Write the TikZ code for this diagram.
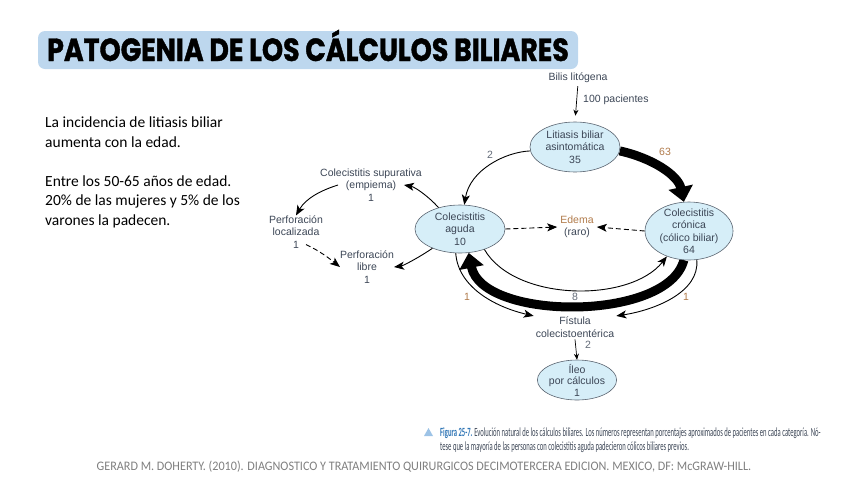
\documentclass[tikz,border=0pt]{standalone}
\usepackage{fontspec}
\usepackage{tikz}
\usetikzlibrary{arrows.meta,positioning,shapes.geometric,calc,backgrounds}
\setmainfont{Liberation Sans}
\newfontfamily\titlefont{Poppins}[FakeStretch=0.84,BoldFeatures={FakeBold=1.2}]
\newfontfamily\notefont{Carlito}
\newfontfamily\capfont{Carlito}[FakeStretch=0.53]
\newfontfamily\footfont{Carlito}[FakeStretch=0.935]
\definecolor{titlebox}{HTML}{BDD7EE}
\definecolor{cellfill}{HTML}{D6EEF8}
\definecolor{celldraw}{HTML}{5A6470}
\definecolor{numbrown}{HTML}{B07A4A}
\definecolor{txtdark}{HTML}{3C4656}
\definecolor{capblue}{HTML}{2F75B5}
\definecolor{capmark}{HTML}{9DC3E6}
\definecolor{footgray}{HTML}{7F7F7F}

\tikzset{
  stage/.style={ellipse,draw=celldraw,fill=cellfill,line width=0.6pt,inner sep=0pt,
    align=center,text=txtdark,font=\fontsize{10.5}{12.5}\selectfont},
  plain/.style={align=center,inner sep=0pt,text=txtdark,font=\fontsize{10.5}{12.5}\selectfont},
  flow/.style={line width=0.9pt,-{Stealth[length=10pt,width=8pt,inset=2.5pt]}},
  weak/.style={flow,dash pattern=on 5pt off 3pt},
  heavy/.style={line width=9pt,-{Triangle[length=15pt,width=24pt]}},
  num/.style={text=numbrown,font=\fontsize{10.5}{12.5}\selectfont,inner sep=1pt},
  numdark/.style={num,text=txtdark!80}
}

\begin{document}
\begin{tikzpicture}[x=1pt,y=-1pt]
  \useasboundingbox (0,0) rectangle (848,477);

  % title and side notes
  \node[fill=titlebox,rounded corners=7pt,minimum width=540pt,
    text height=24pt,text depth=2pt,inner ysep=6pt,
    font=\titlefont\bfseries\fontsize{32}{32}\selectfont] (title) at (308,50)
    {PATOGENIA DE LOS CÁLCULOS BILIARES};
  \node[anchor=north west,align=left,inner sep=0pt,
    font=\notefont\fontsize{15.5}{19.5}\selectfont] (note) at (45,117)
    {La incidencia de litiasis biliar\\aumenta con la edad.\\[19.5pt]
     Entre los 50-65 años de edad.\\20\% de las mujeres y 5\% de los\\varones la padecen.};

  % stages
  \node[plain] (bil) at (578,78) {Bilis litógena};
  \node[stage,minimum width=90pt,minimum height=50pt] (lit) at (575,147)
    {Litiasis biliar\\asintomática\\35};
  \node[stage,minimum width=90pt,minimum height=48pt] (agu) at (460,229)
    {Colecistitis\\aguda\\10};
  \node[stage,minimum width=88pt,minimum height=58pt,inner ysep=-3pt] (cro) at (689,231)
    {Colecistitis\\crónica\\(cólico biliar)\\64};
  \node[plain,inner xsep=3pt] (ede) at (577,227) {\textcolor{numbrown}{Edema}\\(raro)};
  \node[plain] (emp) at (371,185) {Colecistitis supurativa\\(empiema)\\1};
  \node[plain] (loc) at (296,232) {Perforación\\localizada\\1};
  \node[plain] (lib) at (367,267) {Perforación\\libre\\1};
  \node[plain,inner xsep=2pt,inner ysep=2pt] (fis) at (575,327) {Fístula\\colecistoentérica};
  \node[stage,minimum width=78pt,minimum height=40pt,inner ysep=-5pt,
    font=\fontsize{10.5}{11.5}\selectfont] (ile) at (577,380) {Íleo\\por cálculos\\1};

  % connectors
  \draw[line width=0.7pt,-{Stealth[length=6pt,width=5pt]},shorten <=3pt,shorten >=6pt]
    (bil.south) -- (lit.north);
  \node[plain,anchor=west] (pac) at (583,100) {100 pacientes};
  \begin{scope}[on background layer]
    \draw[heavy] (lit.-5) .. controls (652,158) and (678,175) .. (cro.100);
    \draw[heavy] (cro.260) .. controls (668,322) and (482,321) .. (agu.-70);
  \end{scope}
  \draw[flow] (lit.185) .. controls (505,152) and (470,170) .. (agu.80);
  \draw[flow] (agu.135) .. controls (428,196) and (415,187) .. ([xshift=-18pt]emp.east);
  \draw[flow] ([xshift=18pt]emp.west) .. controls (322,190) and (306,198) .. (loc.north);
  \draw[weak] ([xshift=10pt,yshift=4pt]loc.south) .. controls (320,251) and (330,259) .. (lib.west);
  \draw[flow] (agu.215) .. controls (415,260) and (402,266) .. (lib.east);
  \draw[weak] (agu.east) -- (ede.west);
  \draw[weak] (cro.west) -- (ede.east);
  \draw[flow] (agu.-40) .. controls (515,302) and (630,303) .. (cro.229);
  \draw[flow] (agu.-100) .. controls (458,287) and (495,307) .. (fis.165);
  \draw[flow] (cro.-75) .. controls (700,292) and (655,310) .. (fis.15);
  \draw[line width=0.7pt,-{Stealth[length=6pt,width=5pt]}] (fis.south) -- (ile.north);

  % path labels
  \node[numdark] (n2) at (490,155) {2};
  \node[num] (n63) at (665,152) {63};
  \node[num] (n1a) at (467,297) {1};
  \node[numdark] (n8) at (575,297) {8};
  \node[num] (n1b) at (686,297) {1};
  \node[numdark] (n2b) at (588,345) {2};

  % caption and source
  \fill[capmark] (424,436) -- (433,436) -- (428.5,428) -- cycle;
  \node[anchor=north west,align=left,inner sep=0pt,text=txtdark,
    font=\capfont\fontsize{12.5}{14}\selectfont] (cap) at (440,428)
    {\textcolor{capblue}{\bfseries Figura 25-7.} Evolución natural de los cálculos biliares. Los números representan porcentajes aproximados de pacientes en cada categoría. Nó-\\
     tese que la mayoría de las personas con colecistitis aguda padecieron cólicos biliares previos.};
  \node[anchor=base,inner sep=0pt,text=footgray,font=\footfont\fontsize{13}{13}\selectfont]
    (src) at (424,470)
    {GERARD M. DOHERTY. (2010). DIAGNOSTICO Y TRATAMIENTO QUIRURGICOS DECIMOTERCERA EDICION. MEXICO, DF: McGRAW-HILL.};
\end{tikzpicture}
\end{document}
